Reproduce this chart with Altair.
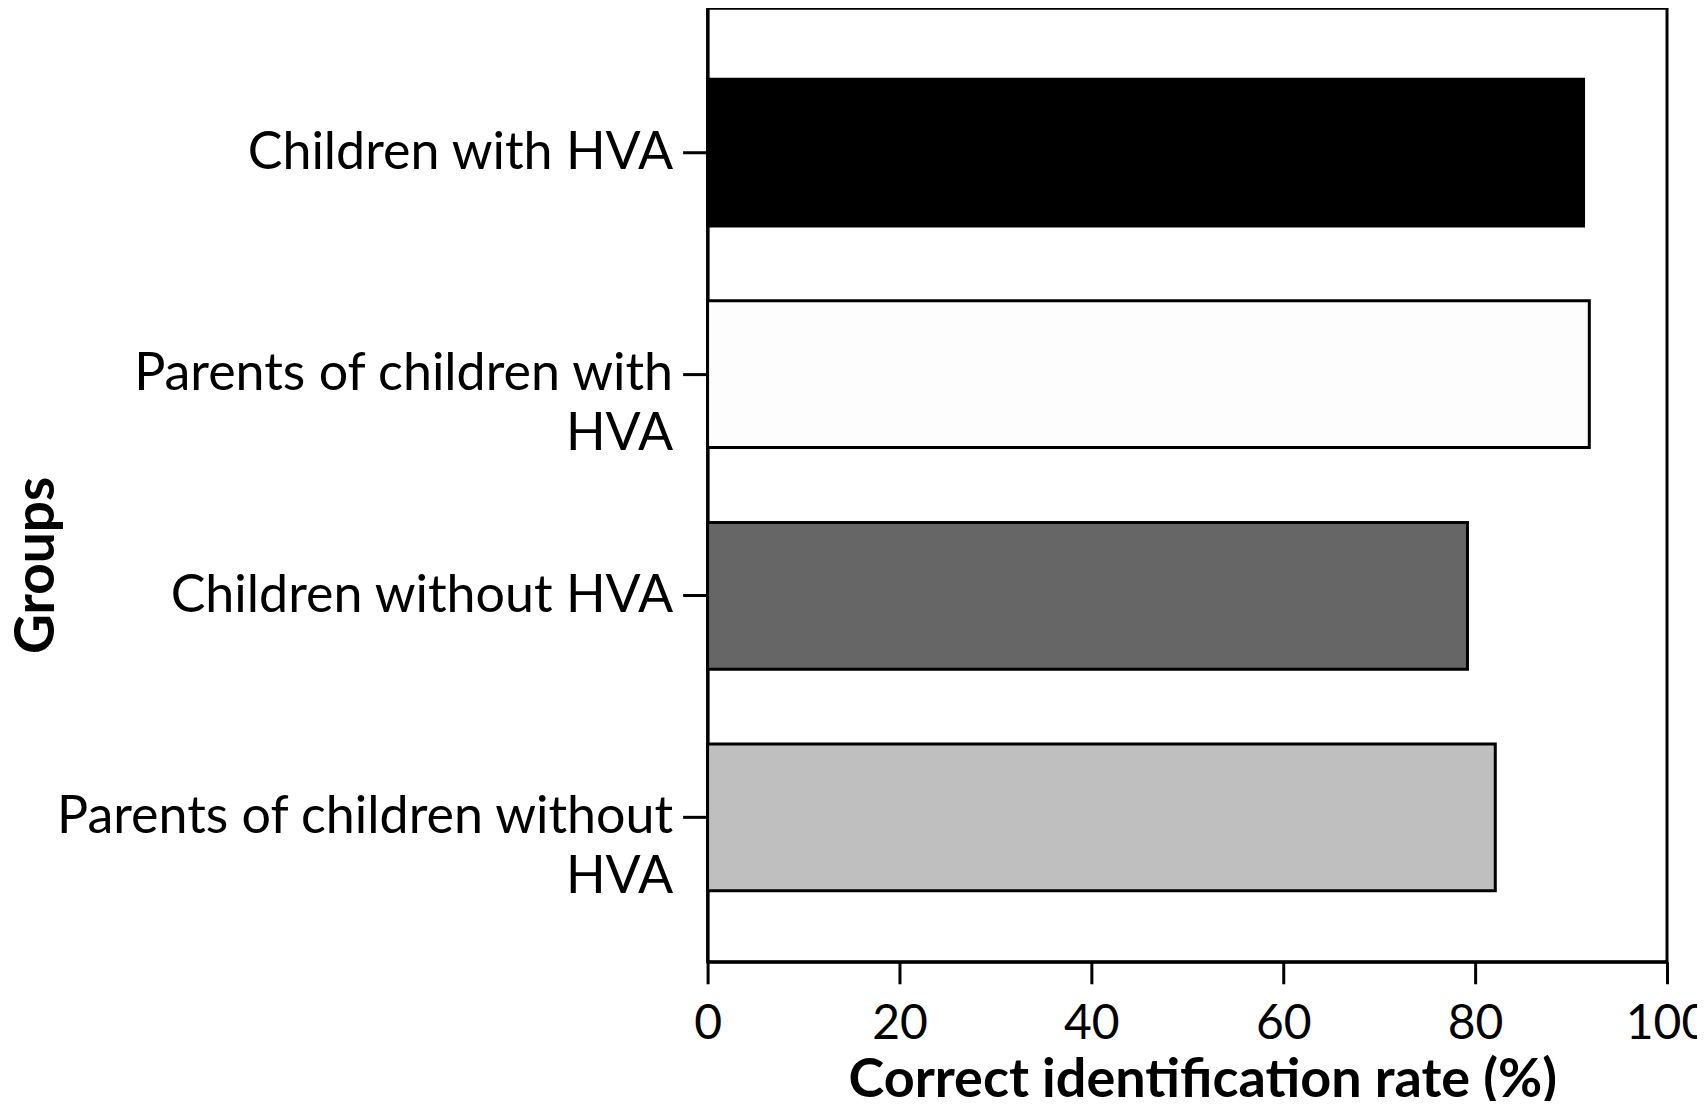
import altair as alt
import pandas as pd

groups = ["Children with HVA", "Parents of children with HVA",
          "Children without HVA", "Parents of children without HVA"]
labels = ["Children with HVA", "Parents of children with|HVA",
          "Children without HVA", "Parents of children without|HVA"]
rates = [91.3, 91.9, 79.2, 82.1]
fills = ["#000000", "#fdfdfd", "#666666", "#bfbfbf"]

df = pd.DataFrame({"group": labels, "rate": rates, "fill": fills})

FONT = "Lato"

chart = alt.Chart(df).mark_bar(stroke="black", strokeWidth=3).encode(
    y=alt.Y("group:N", sort=labels,
            scale=alt.Scale(paddingInner=0.338, paddingOuter=0.32),
            axis=alt.Axis(title="Groups", labelExpr="split(datum.label, '|')",
                          labelFontSize=52, labelFont=FONT, labelColor="black",
                          labelLineHeight=60, labelPadding=10, labelLimit=0,
                          tickSize=25, tickWidth=3, tickColor="black",
                          domainWidth=3, domainColor="black",
                          titleFont=FONT, titleFontSize=55, titleFontWeight="bold",
                          titleColor="black", titleAngle=-90, titleBaseline="top",
                          titleAlign="center", titleX=-697, titleY=557)),
    x=alt.X("rate:Q", scale=alt.Scale(domain=[0, 100]),
            axis=alt.Axis(title="Correct identification rate (%)",
                          values=[0, 20, 40, 60, 80, 100], grid=False,
                          labelFontSize=48, labelFont=FONT, labelColor="black",
                          labelPadding=17, labelFlush=False,
                          tickSize=22, tickWidth=3, tickColor="black",
                          domainWidth=3, domainColor="black",
                          titleFont=FONT, titleFontSize=54, titleFontWeight="bold",
                          titleColor="black", titlePadding=5,
                          titleAlign="center", titleX=495)),
    fill=alt.Fill("fill:N", scale=None),
).properties(
    width=960, height=954,
    autosize=alt.AutoSizeParams(type="none"),
    padding={"left": 700, "top": 0, "right": 30, "bottom": 139},
).configure_view(stroke="black", strokeWidth=3).configure_axis(grid=False)

chart.save("out.html", embed_options={"renderer": "svg", "actions": False})
